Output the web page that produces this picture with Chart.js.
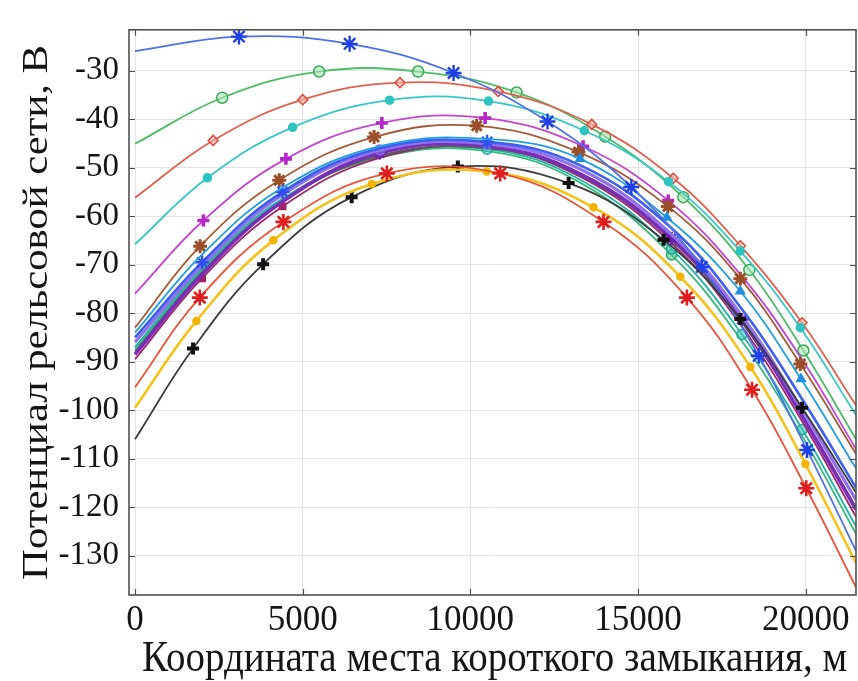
<!DOCTYPE html>
<html>
<head>
<meta charset="utf-8">
<script src="https://cdn.jsdelivr.net/npm/chart.js@4.4.1/dist/chart.umd.min.js"></script>
<style>
  html, body { margin: 0; padding: 0; background: #ffffff; }
  canvas { display: block; }
</style>
</head>
<body>
<canvas id="chart" width="858" height="681"></canvas>
<script>
// Axis ticks and titles
const xTicks = [0, 5000, 10000, 15000, 20000];
const yTicks = [-30, -40, -50, -60, -70, -80, -90, -100, -110, -120, -130];
const xTitle = 'Координата места короткого замыкания, м';
const yTitle = 'Потенциал рельсовой сети, В';

// Rail potential (V) against short-circuit location (m), one curve per case.
// *X: location, *Y: potential, *Marks: locations that carry a marker.
const blueStarX = [0, 3100, 6400, 9500, 12300, 14800, 16900, 18600, 20040, 21500];
const blueStarY = [-26, -23, -24.5, -30.5, -40.5, -54, -70.5, -88.8, -108.2, -129];
const blueStarMarks = [3100, 6400, 9500, 12300, 14800, 16900, 18600, 20040];

const greenCircleX = [0, 2600, 5490, 8440, 11380, 14020, 16350, 18320, 19930, 21500];
const greenCircleY = [-45.1, -35.6, -30.2, -30.2, -34.5, -43.6, -56.1, -71.1, -87.7, -106];
const greenCircleMarks = [2600, 5490, 8440, 11380, 14020, 16350, 18320, 19930];

const redDiamondX = [0, 2330, 5000, 7900, 10830, 13620, 16050, 18050, 19890, 21500];
const redDiamondY = [-56.2, -44.4, -36, -32.5, -34.3, -41.1, -52.2, -66.1, -82, -99];
const redDiamondMarks = [2330, 5000, 7900, 10830, 13620, 16050, 18050, 19890];

const cyanDotX = [0, 2160, 4700, 7590, 10540, 13400, 15910, 18050, 19840, 21500];
const cyanDotY = [-65.8, -52.1, -41.7, -36.1, -36.3, -42.4, -52.9, -67.2, -83, -101];
const cyanDotMarks = [2160, 4700, 7590, 10540, 13400, 15910, 18050, 19840];

const magentaPlusX = [0, 2040, 4500, 7360, 10440, 13360, 15900, 18050, 19840, 21500];
const magentaPlusY = [-76, -60.9, -48.2, -40.8, -39.8, -45.6, -56.8, -72, -89, -108];
const magentaPlusMarks = [2040, 4500, 7360, 10440, 13360, 15900];

const brownStarX = [0, 1940, 4300, 7130, 10190, 13225, 15890, 18050, 19840, 21500];
const brownStarY = [-83, -66.2, -52.6, -43.7, -41.4, -46.8, -58, -72.9, -90.5, -109];
const brownStarMarks = [1940, 4300, 7130, 10190, 13225, 15890, 18050, 19840];

const skyTriangleX = [0, 1990, 4380, 7400, 10690, 13275, 15860, 18050, 19860, 21500];
const skyTriangleY = [-84, -68, -54.2, -45.4, -44.2, -48.2, -60.3, -75.5, -93.6, -112];
const skyTriangleMarks = [13275, 15860, 18050, 19860];

// The closely packed group shares one set of locations
const bundleX = [0, 2000, 4400, 7300, 10500, 13300, 16000, 18100, 19900, 21500];
const blueY = [-85, -69.5, -55, -46, -44.7, -49.6, -62.5, -79.2, -97.8, -116];
const blueMarks = [2000, 4400, 10500];
const lavenderY = [-86, -70.2, -55.6, -46.4, -45.1, -50.4, -63.8, -80.6, -100, -118.5];
const lavenderMarks = [7300, 10500];
const purpleY = [-88.5, -72, -57, -47, -45.6, -51.4, -64.6, -81.3, -101.3, -120.5];
const purpleMarks = [7300, 16000, 18100];
const grayY = [-88, -71.6, -57, -47.6, -46, -51.7, -65, -82, -101.2, -120];
const grayMarks = [];
const plumY = [-89.5, -72.8, -58, -48, -45.9, -52, -65.6, -82.8, -102.4, -122];
const plumMarks = [2000, 4400];
const tealY = [-87, -70.8, -56.4, -47.6, -46.2, -52.6, -66.8, -84.4, -104, -124];
const tealMarks = [10500, 16000, 18100, 19900];
const seaGreenY = [-87.5, -71.2, -56.8, -47.9, -46.6, -53.2, -68, -85.8, -105.4, -125.5];
const seaGreenMarks = [16000];

const blackPlusX = [0, 1730, 3820, 6460, 9625, 12930, 15760, 18050, 19890, 21500];
const blackPlusY = [-106, -87.3, -69.9, -56.1, -49.8, -53.2, -64.9, -81.2, -99.5, -117];
const blackPlusMarks = [1730, 3820, 6460, 9625, 12930, 15760, 18050, 19890];

const redStarX = [0, 1930, 4424, 7508, 10890, 13970, 16457, 18400, 20016, 21500];
const redStarY = [-95.3, -76.8, -61.2, -51.2, -51.2, -61.2, -76.8, -95.8, -116.1, -136.5];
const redStarMarks = [1930, 4424, 7508, 10890, 13970, 16457, 18400, 20016];

const yellowDotX = [0, 1830, 4126, 7060, 10490, 13670, 16260, 18350, 19990, 21500];
const yellowDotY = [-99.5, -81.6, -65, -53.4, -50.8, -58.2, -72.5, -91.1, -111.1, -131.5];
const yellowDotMarks = [1830, 4126, 7060, 10490, 13670, 16260, 18350, 19990];

function curve(label, xs, ys, marks, s) {
  return {
    label,
    data: xs.map((x, i) => ({ x, y: ys[i] })),
    showLine: true,
    tension: 0.4,
    borderColor: s.line,
    borderWidth: s.width || 1.8,
    pointStyle: s.shape,
    pointRadius: c => (c.raw && marks.includes(c.raw.x)) ? s.r : 0,
    pointHoverRadius: 0,
    pointBorderColor: s.mark || s.line,
    pointBackgroundColor: s.fill || s.mark || s.line,
    pointBorderWidth: s.bw || 1.5
  };
}

const datasets = [
  curve('1', redStarX, redStarY, redStarMarks, { line: '#e8553a', mark: '#e01c1c', shape: 'star', r: 8, bw: 2.6 }),
  curve('2', yellowDotX, yellowDotY, yellowDotMarks, { line: '#f5c21b', mark: '#f2b400', shape: 'circle', r: 3.5, width: 2.6 }),
  curve('3', blackPlusX, blackPlusY, blackPlusMarks, { line: '#3c3c3c', mark: '#111111', shape: 'cross', r: 6, bw: 4 }),
  curve('4', blueStarX, blueStarY, blueStarMarks, { line: '#4f72ea', mark: '#1e40e6', shape: 'star', r: 8, bw: 2.4 }),
  curve('5', skyTriangleX, skyTriangleY, skyTriangleMarks, { line: '#1f9fe3', mark: '#1f8fe0', shape: 'triangle', r: 5 }),
  curve('6', bundleX, blueY, blueMarks, { line: '#3d5ff0', mark: '#3050f0', shape: 'star', r: 7, bw: 2.4, width: 2.6 }),
  curve('7', bundleX, lavenderY, lavenderMarks, { line: '#9272ec', mark: '#8a60e8', shape: 'circle', r: 5, fill: 'rgba(150,120,240,0.5)', width: 3.2 }),
  curve('8', bundleX, purpleY, purpleMarks, { line: '#7a2db8', mark: '#6a1fa8', shape: 'star', r: 6.5, bw: 2.6, width: 3.6 }),
  curve('9', bundleX, grayY, grayMarks, { line: '#5a5a5a', shape: 'circle', r: 0 }),
  curve('10', bundleX, plumY, plumMarks, { line: '#a0256e', mark: '#a0206a', shape: 'rect', r: 4.5 }),
  curve('11', bundleX, tealY, tealMarks, { line: '#22b3a6', mark: '#20a898', shape: 'circle', r: 5, fill: 'rgba(60,200,180,0.6)' }),
  curve('12', bundleX, seaGreenY, seaGreenMarks, { line: '#33bb7a', mark: '#2aa86a', shape: 'circle', r: 5, fill: 'rgba(80,200,130,0.6)' }),
  curve('13', brownStarX, brownStarY, brownStarMarks, { line: '#a65a35', mark: '#9a4f28', shape: 'star', r: 7, bw: 3 }),
  curve('14', magentaPlusX, magentaPlusY, magentaPlusMarks, { line: '#c445d2', mark: '#b526c8', shape: 'cross', r: 6, bw: 3.6 }),
  curve('15', cyanDotX, cyanDotY, cyanDotMarks, { line: '#35c8c4', mark: '#2cc4c0', shape: 'circle', r: 4 }),
  curve('16', redDiamondX, redDiamondY, redDiamondMarks, { line: '#e2604f', mark: '#e0483a', shape: 'rectRot', r: 5, fill: 'rgba(250,180,170,0.6)' }),
  curve('17', greenCircleX, greenCircleY, greenCircleMarks, { line: '#4cbc68', mark: '#3aaa58', shape: 'circle', r: 5.5, fill: 'rgba(170,230,180,0.6)' })
];

// Box around the plot with inward tick marks on all four sides
const frame = {
  id: 'frame',
  afterDatasetsDraw(chart) {
    const { ctx, chartArea: a, scales: { x, y } } = chart;
    ctx.save();
    ctx.strokeStyle = '#505050';
    ctx.lineWidth = 1.6;
    ctx.strokeRect(a.left, a.top, a.right - a.left, a.bottom - a.top);
    ctx.lineWidth = 1.2;
    const t = 6;
    ctx.beginPath();
    xTicks.forEach(v => {
      const px = Math.round(x.getPixelForValue(v)) + 0.5;
      ctx.moveTo(px, a.bottom); ctx.lineTo(px, a.bottom - t);
      ctx.moveTo(px, a.top); ctx.lineTo(px, a.top + t);
    });
    yTicks.forEach(v => {
      const py = Math.round(y.getPixelForValue(v)) + 0.5;
      ctx.moveTo(a.left, py); ctx.lineTo(a.left + t, py);
      ctx.moveTo(a.right, py); ctx.lineTo(a.right - t, py);
    });
    ctx.stroke();
    ctx.restore();
  }
};

const serif = 'Liberation Serif, Times New Roman, serif';

// Axis titles in a tall serif face
const titles = {
  id: 'titles',
  afterDraw(chart) {
    const { ctx, chartArea: a } = chart;
    ctx.save();
    ctx.fillStyle = '#151515';
    ctx.textAlign = 'center';
    ctx.textBaseline = 'alphabetic';
    ctx.font = '39px ' + serif;
    ctx.save();
    ctx.translate((a.left + a.right) / 2 + 2, 671);
    ctx.scale(1, 1.13);
    ctx.fillText(xTitle, 0, 0);
    ctx.restore();
    ctx.font = '35px ' + serif;
    ctx.save();
    ctx.translate(47, (a.top + a.bottom) / 2);
    ctx.rotate(-Math.PI / 2);
    ctx.scale(1.22, 1);
    ctx.fillText(yTitle, 0, 0);
    ctx.restore();
    ctx.restore();
  }
};

new Chart(document.getElementById('chart'), {
  type: 'scatter',
  data: { datasets },
  options: {
    responsive: false,
    animation: false,
    events: [],
    layout: { padding: { top: 10, right: 2, left: 0, bottom: 0 } },
    plugins: { legend: { display: false }, tooltip: { enabled: false } },
    scales: {
      x: {
        type: 'linear',
        min: -180,
        max: 21500,
        afterBuildTicks: s => { s.ticks = xTicks.map(v => ({ value: v })); },
        afterFit: s => { s.height = 86; },
        border: { display: false },
        grid: { color: '#e4e4e4', lineWidth: 1, drawTicks: false },
        ticks: { font: { family: serif, size: 35 }, color: '#151515', padding: 5, maxRotation: 0, autoSkip: false, callback: v => String(v) }
      },
      y: {
        type: 'linear',
        min: -138.1,
        max: -21.6,
        afterBuildTicks: s => { s.ticks = yTicks.map(v => ({ value: v })); },
        afterFit: s => { s.width = 129; },
        border: { display: false },
        grid: { color: '#e4e4e4', lineWidth: 1, drawTicks: false },
        ticks: { font: { family: serif, size: 33 }, color: '#151515', padding: 10, autoSkip: false, callback: v => String(v) }
      }
    }
  },
  plugins: [frame, titles]
});
</script>
</body>
</html>
